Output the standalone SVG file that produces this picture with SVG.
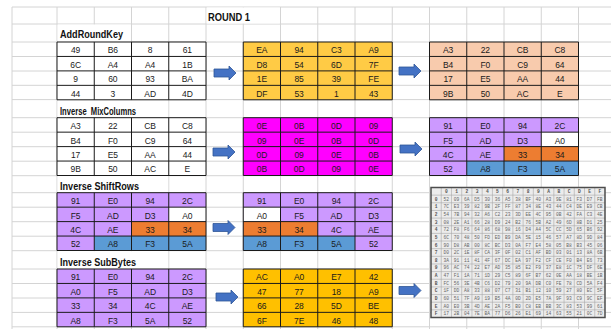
<svg xmlns="http://www.w3.org/2000/svg" xmlns:xlink="http://www.w3.org/1999/xlink" width="611" height="329" viewBox="0 0 611 329">
<style>
.grid{stroke:#d4d4d4;stroke-width:1;fill:none}
.tb{fill:none;stroke:#1a1a1a;stroke-width:1}
.c{font-family:"Liberation Sans Narrow","Liberation Sans",Arial,sans-serif;font-size:8.5px;fill:#1a1a1a;text-anchor:middle}
.lbl{font-family:"Liberation Sans",Arial,sans-serif;font-weight:bold;font-size:10px;fill:#111}
.arr{fill:#4472C4;stroke:#2F5597;stroke-width:0.8}
.wht{fill:#ffffff}
.ylw{fill:#FFCB45}
.gld{fill:#FFC000}
.pch{fill:#F8CBAD}
.mag{fill:#FF00FF}
.pur{fill:#CC99FF}
.org{fill:#ED7D31}
.blu{fill:#5B9BD5}
.sx{font-family:"Liberation Mono",monospace;font-size:4.6px;fill:#666;word-spacing:1.955px}
.sh{font-family:"Liberation Mono",monospace;font-size:4.6px;fill:#555;font-weight:bold;word-spacing:4.715px}
.sl{font-family:"Liberation Mono",monospace;font-size:4.6px;fill:#555;font-weight:bold;text-anchor:middle}
</style>
<defs>
<path id="tg" class="tb" d="M0,0H149V57.8H0Z M37.25,0V57.8 M74.5,0V57.8 M111.75,0V57.8 M0,14.45H149 M0,28.9H149 M0,43.35H149"/>
<path id="ar" d="M0,-4H15V-7L22,0L15,7V4H0Z"/>
</defs>
<rect width="611" height="329" fill="#ffffff"/>
<g id="sheet-grid">
<path class="grid" d="M12,7V329 M57,7V329 M94.25,7V329 M131.5,7V329 M168.75,7V329 M206,7V329 M243.25,7V329 M280.5,7V329 M317.75,7V329 M355,7V329 M392.25,7V329 M429.5,7V329 M466.75,7V329 M504,7V329 M541.25,7V329 M578.5,7V329
M12,7H611 M12,24H611 M12,42H611 M12,56.5H611 M12,71H611 M12,85.3H611 M12,99.6H611 M12,117.7H611 M12,132.2H611 M12,146.7H611 M12,161.2H611 M12,175.7H611 M12,192.7H611 M12,207.2H611 M12,221.7H611 M12,236.2H611 M12,250.7H611 M12,269H611 M12,283.5H611 M12,298H611 M12,312.4H611 M12,326.8H611"/>
<rect x="206.6" y="7.5" width="73.3" height="16" fill="#fff"/>
<rect x="57.6" y="24.5" width="73.3" height="17" fill="#fff"/>
<rect x="57.6" y="100.1" width="110.6" height="17.1" fill="#fff"/>
<rect x="57.6" y="176.2" width="110.6" height="16" fill="#fff"/>
<rect x="57.6" y="251.2" width="110.6" height="17.3" fill="#fff"/>
</g>
<g id="labels">
<text class="lbl" x="208" y="20.5" textLength="42" lengthAdjust="spacingAndGlyphs">ROUND 1</text>
<text class="lbl" x="60" y="38" textLength="63" lengthAdjust="spacingAndGlyphs">AddRoundKey</text>
<text class="lbl" x="60" y="114.5" textLength="76" lengthAdjust="spacingAndGlyphs" xml:space="preserve">Inverse  MixColumns</text>
<text class="lbl" x="60" y="189.5" textLength="79" lengthAdjust="spacingAndGlyphs">Inverse ShiftRows</text>
<text class="lbl" x="60" y="266" textLength="76" lengthAdjust="spacingAndGlyphs">Inverse SubBytes</text>
</g>
<g id="ark-state" transform="translate(57,42)">
<rect class="wht" width="149" height="57.8"/><use xlink:href="#tg"/>
<text class="c" y="11.4"><tspan x="18.63">49</tspan><tspan x="55.88">B6</tspan><tspan x="93.13">8</tspan><tspan x="130.38">61</tspan></text>
<text class="c" y="25.85"><tspan x="18.63">6C</tspan><tspan x="55.88">A4</tspan><tspan x="93.13">A4</tspan><tspan x="130.38">1B</tspan></text>
<text class="c" y="40.3"><tspan x="18.63">9</tspan><tspan x="55.88">60</tspan><tspan x="93.13">93</tspan><tspan x="130.38">BA</tspan></text>
<text class="c" y="54.75"><tspan x="18.63">44</tspan><tspan x="55.88">3</tspan><tspan x="93.13">AD</tspan><tspan x="130.38">4D</tspan></text>
</g>
<g id="ark-key" transform="translate(243.25,42)">
<rect class="ylw" width="149" height="57.8"/><use xlink:href="#tg"/>
<text class="c" y="11.4"><tspan x="18.63">EA</tspan><tspan x="55.88">94</tspan><tspan x="93.13">C3</tspan><tspan x="130.38">A9</tspan></text>
<text class="c" y="25.85"><tspan x="18.63">D8</tspan><tspan x="55.88">54</tspan><tspan x="93.13">6D</tspan><tspan x="130.38">7F</tspan></text>
<text class="c" y="40.3"><tspan x="18.63">1E</tspan><tspan x="55.88">85</tspan><tspan x="93.13">39</tspan><tspan x="130.38">FE</tspan></text>
<text class="c" y="54.75"><tspan x="18.63">DF</tspan><tspan x="55.88">53</tspan><tspan x="93.13">1</tspan><tspan x="130.38">43</tspan></text>
</g>
<g id="ark-out" transform="translate(429.5,42)">
<rect class="pch" width="149" height="57.8"/><use xlink:href="#tg"/>
<text class="c" y="11.4"><tspan x="18.63">A3</tspan><tspan x="55.88">22</tspan><tspan x="93.13">CB</tspan><tspan x="130.38">C8</tspan></text>
<text class="c" y="25.85"><tspan x="18.63">B4</tspan><tspan x="55.88">F0</tspan><tspan x="93.13">C9</tspan><tspan x="130.38">64</tspan></text>
<text class="c" y="40.3"><tspan x="18.63">17</tspan><tspan x="55.88">E5</tspan><tspan x="93.13">AA</tspan><tspan x="130.38">44</tspan></text>
<text class="c" y="54.75"><tspan x="18.63">9B</tspan><tspan x="55.88">50</tspan><tspan x="93.13">AC</tspan><tspan x="130.38">E</tspan></text>
</g>
<g id="imc-in" transform="translate(57,117.7)">
<rect class="wht" width="149" height="57.8"/><use xlink:href="#tg"/>
<text class="c" y="11.4"><tspan x="18.63">A3</tspan><tspan x="55.88">22</tspan><tspan x="93.13">CB</tspan><tspan x="130.38">C8</tspan></text>
<text class="c" y="25.85"><tspan x="18.63">B4</tspan><tspan x="55.88">F0</tspan><tspan x="93.13">C9</tspan><tspan x="130.38">64</tspan></text>
<text class="c" y="40.3"><tspan x="18.63">17</tspan><tspan x="55.88">E5</tspan><tspan x="93.13">AA</tspan><tspan x="130.38">44</tspan></text>
<text class="c" y="54.75"><tspan x="18.63">9B</tspan><tspan x="55.88">50</tspan><tspan x="93.13">AC</tspan><tspan x="130.38">E</tspan></text>
</g>
<g id="imc-matrix" transform="translate(243.25,117.7)">
<rect class="mag" width="149" height="57.8"/><use xlink:href="#tg"/>
<text class="c" y="11.4"><tspan x="18.63">0E</tspan><tspan x="55.88">0B</tspan><tspan x="93.13">0D</tspan><tspan x="130.38">09</tspan></text>
<text class="c" y="25.85"><tspan x="18.63">09</tspan><tspan x="55.88">0E</tspan><tspan x="93.13">0B</tspan><tspan x="130.38">0D</tspan></text>
<text class="c" y="40.3"><tspan x="18.63">0D</tspan><tspan x="55.88">09</tspan><tspan x="93.13">0E</tspan><tspan x="130.38">0B</tspan></text>
<text class="c" y="54.75"><tspan x="18.63">0B</tspan><tspan x="55.88">0D</tspan><tspan x="93.13">09</tspan><tspan x="130.38">0E</tspan></text>
</g>
<g id="imc-out" transform="translate(429.5,117.7)">
<rect class="pur" width="149" height="57.8"/>
<rect class="wht" x="111.75" y="14.45" width="37.25" height="14.45"/>
<rect class="org" x="74.5" y="28.9" width="74.5" height="14.45"/>
<rect class="blu" x="37.25" y="43.35" width="111.75" height="14.45"/>
<use xlink:href="#tg"/>
<text class="c" y="11.4"><tspan x="18.63">91</tspan><tspan x="55.88">E0</tspan><tspan x="93.13">94</tspan><tspan x="130.38">2C</tspan></text>
<text class="c" y="25.85"><tspan x="18.63">F5</tspan><tspan x="55.88">AD</tspan><tspan x="93.13">D3</tspan><tspan x="130.38">A0</tspan></text>
<text class="c" y="40.3"><tspan x="18.63">4C</tspan><tspan x="55.88">AE</tspan><tspan x="93.13">33</tspan><tspan x="130.38">34</tspan></text>
<text class="c" y="54.75"><tspan x="18.63">52</tspan><tspan x="55.88">A8</tspan><tspan x="93.13">F3</tspan><tspan x="130.38">5A</tspan></text>
</g>
<g id="isr-in" transform="translate(57,192.7)">
<rect class="pur" width="149" height="57.8"/>
<rect class="wht" x="111.75" y="14.45" width="37.25" height="14.45"/>
<rect class="org" x="74.5" y="28.9" width="74.5" height="14.45"/>
<rect class="blu" x="37.25" y="43.35" width="111.75" height="14.45"/>
<use xlink:href="#tg"/>
<text class="c" y="11.4"><tspan x="18.63">91</tspan><tspan x="55.88">E0</tspan><tspan x="93.13">94</tspan><tspan x="130.38">2C</tspan></text>
<text class="c" y="25.85"><tspan x="18.63">F5</tspan><tspan x="55.88">AD</tspan><tspan x="93.13">D3</tspan><tspan x="130.38">A0</tspan></text>
<text class="c" y="40.3"><tspan x="18.63">4C</tspan><tspan x="55.88">AE</tspan><tspan x="93.13">33</tspan><tspan x="130.38">34</tspan></text>
<text class="c" y="54.75"><tspan x="18.63">52</tspan><tspan x="55.88">A8</tspan><tspan x="93.13">F3</tspan><tspan x="130.38">5A</tspan></text>
</g>
<g id="isr-out" transform="translate(243.25,192.7)">
<rect class="pur" width="149" height="57.8"/>
<rect class="wht" x="0" y="14.45" width="37.25" height="14.45"/>
<rect class="org" x="0" y="28.9" width="74.5" height="14.45"/>
<rect class="blu" x="0" y="43.35" width="111.75" height="14.45"/>
<use xlink:href="#tg"/>
<text class="c" y="11.4"><tspan x="18.63">91</tspan><tspan x="55.88">E0</tspan><tspan x="93.13">94</tspan><tspan x="130.38">2C</tspan></text>
<text class="c" y="25.85"><tspan x="18.63">A0</tspan><tspan x="55.88">F5</tspan><tspan x="93.13">AD</tspan><tspan x="130.38">D3</tspan></text>
<text class="c" y="40.3"><tspan x="18.63">33</tspan><tspan x="55.88">34</tspan><tspan x="93.13">4C</tspan><tspan x="130.38">AE</tspan></text>
<text class="c" y="54.75"><tspan x="18.63">A8</tspan><tspan x="55.88">F3</tspan><tspan x="93.13">5A</tspan><tspan x="130.38">52</tspan></text>
</g>
<g id="isb-in" transform="translate(57,269)">
<rect class="pur" width="149" height="57.8"/><use xlink:href="#tg"/>
<text class="c" y="11.4"><tspan x="18.63">91</tspan><tspan x="55.88">E0</tspan><tspan x="93.13">94</tspan><tspan x="130.38">2C</tspan></text>
<text class="c" y="25.85"><tspan x="18.63">A0</tspan><tspan x="55.88">F5</tspan><tspan x="93.13">AD</tspan><tspan x="130.38">D3</tspan></text>
<text class="c" y="40.3"><tspan x="18.63">33</tspan><tspan x="55.88">34</tspan><tspan x="93.13">4C</tspan><tspan x="130.38">AE</tspan></text>
<text class="c" y="54.75"><tspan x="18.63">A8</tspan><tspan x="55.88">F3</tspan><tspan x="93.13">5A</tspan><tspan x="130.38">52</tspan></text>
</g>
<g id="isb-out" transform="translate(243.25,269)">
<rect class="gld" width="149" height="57.8"/><use xlink:href="#tg"/>
<text class="c" y="11.4"><tspan x="18.63">AC</tspan><tspan x="55.88">A0</tspan><tspan x="93.13">E7</tspan><tspan x="130.38">42</tspan></text>
<text class="c" y="25.85"><tspan x="18.63">47</tspan><tspan x="55.88">77</tspan><tspan x="93.13">18</tspan><tspan x="130.38">A9</tspan></text>
<text class="c" y="40.3"><tspan x="18.63">66</tspan><tspan x="55.88">28</tspan><tspan x="93.13">5D</tspan><tspan x="130.38">BE</tspan></text>
<text class="c" y="54.75"><tspan x="18.63">6F</tspan><tspan x="55.88">7E</tspan><tspan x="93.13">46</tspan><tspan x="130.38">48</tspan></text>
</g>
<g id="inv-sbox">
<rect x="431" y="187.5" width="174" height="130" fill="#ececec"/>
<path fill="none" stroke="#a8a8a8" stroke-width="0.6" d="M441.24,187.5V317.5 M451.47,187.5V317.5 M461.71,187.5V317.5 M471.94,187.5V317.5 M482.18,187.5V317.5 M492.41,187.5V317.5 M502.65,187.5V317.5 M512.88,187.5V317.5 M523.12,187.5V317.5 M533.35,187.5V317.5 M543.59,187.5V317.5 M553.82,187.5V317.5 M564.06,187.5V317.5 M574.29,187.5V317.5 M584.53,187.5V317.5 M594.76,187.5V317.5 M431,195.15H605 M431,202.79H605 M431,210.44H605 M431,218.09H605 M431,225.74H605 M431,233.38H605 M431,241.03H605 M431,248.68H605 M431,256.32H605 M431,263.97H605 M431,271.62H605 M431,279.26H605 M431,286.91H605 M431,294.56H605 M431,302.21H605 M431,309.85H605"/>
<rect x="431" y="187.5" width="174" height="130" fill="none" stroke="#4d4d4d" stroke-width="1.5"/>
<text class="sh" x="444.97" y="193">0 1 2 3 4 5 6 7 8 9 A B C D E F</text>
<text class="sl"><tspan x="436.12" y="200.65">0</tspan><tspan x="436.12" y="208.3">1</tspan><tspan x="436.12" y="215.94">2</tspan><tspan x="436.12" y="223.59">3</tspan><tspan x="436.12" y="231.24">4</tspan><tspan x="436.12" y="238.88">5</tspan><tspan x="436.12" y="246.53">6</tspan><tspan x="436.12" y="254.18">7</tspan><tspan x="436.12" y="261.82">8</tspan><tspan x="436.12" y="269.47">9</tspan><tspan x="436.12" y="277.12">A</tspan><tspan x="436.12" y="284.76">B</tspan><tspan x="436.12" y="292.41">C</tspan><tspan x="436.12" y="300.06">D</tspan><tspan x="436.12" y="307.7">E</tspan><tspan x="436.12" y="315.35">F</tspan></text>
<text class="sx" x="443.59" y="200.65">52 09 6A D5 30 36 A5 38 BF 40 A3 9E 81 F3 D7 FB</text>
<text class="sx" x="443.59" y="208.3">7C E3 39 82 9B 2F FF 87 34 8E 43 44 C4 DE E9 CB</text>
<text class="sx" x="443.59" y="215.94">54 7B 94 32 A6 C2 23 3D EE 4C 95 0B 42 FA C3 4E</text>
<text class="sx" x="443.59" y="223.59">08 2E A1 66 28 D9 24 B2 76 5B A2 49 6D 8B D1 25</text>
<text class="sx" x="443.59" y="231.24">72 F8 F6 64 86 68 98 16 D4 A4 5C CC 5D 65 B6 92</text>
<text class="sx" x="443.59" y="238.88">6C 70 48 50 FD ED B9 DA 5E 15 46 57 A7 8D 9D 84</text>
<text class="sx" x="443.59" y="246.53">90 D8 AB 00 8C BC D3 0A F7 E4 58 05 B8 B3 45 06</text>
<text class="sx" x="443.59" y="254.18">D0 2C 1E 8F CA 3F 0F 02 C1 AF BD 03 01 13 8A 6B</text>
<text class="sx" x="443.59" y="261.82">3A 91 11 41 4F 67 DC EA 97 F2 CF CE F0 B4 E6 73</text>
<text class="sx" x="443.59" y="269.47">96 AC 74 22 E7 AD 35 85 E2 F9 37 E8 1C 75 DF 6E</text>
<text class="sx" x="443.59" y="277.12">47 F1 1A 71 1D 29 C5 89 6F B7 62 0E AA 18 BE 1B</text>
<text class="sx" x="443.59" y="284.76">FC 56 3E 4B C6 D2 79 20 9A DB C0 FE 78 CD 5A F4</text>
<text class="sx" x="443.59" y="292.41">1F DD A8 33 88 07 C7 31 B1 12 10 59 27 80 EC 5F</text>
<text class="sx" x="443.59" y="300.06">60 51 7F A9 19 B5 4A 0D 2D E5 7A 9F 93 C9 9C EF</text>
<text class="sx" x="443.59" y="307.7">A0 E0 3B 4D AE 2A F5 B0 C8 EB BB 3C 83 53 99 61</text>
<text class="sx" x="443.59" y="315.35">17 2B 04 7E BA 77 D6 26 E1 69 14 63 55 21 0C 7D</text>
</g>
<g id="connectors">
<use class="arr" xlink:href="#ar" transform="translate(214,73)"/>
<use class="arr" xlink:href="#ar" transform="translate(399,71)"/>
<use class="arr" xlink:href="#ar" transform="translate(213,152)"/>
<use class="arr" xlink:href="#ar" transform="translate(400,149)"/>
<use class="arr" xlink:href="#ar" transform="translate(213,227.5)"/>
<use class="arr" xlink:href="#ar" transform="translate(216,297)"/>
<use class="arr" xlink:href="#ar" transform="translate(399,290.5)"/>
</g>
</svg>
